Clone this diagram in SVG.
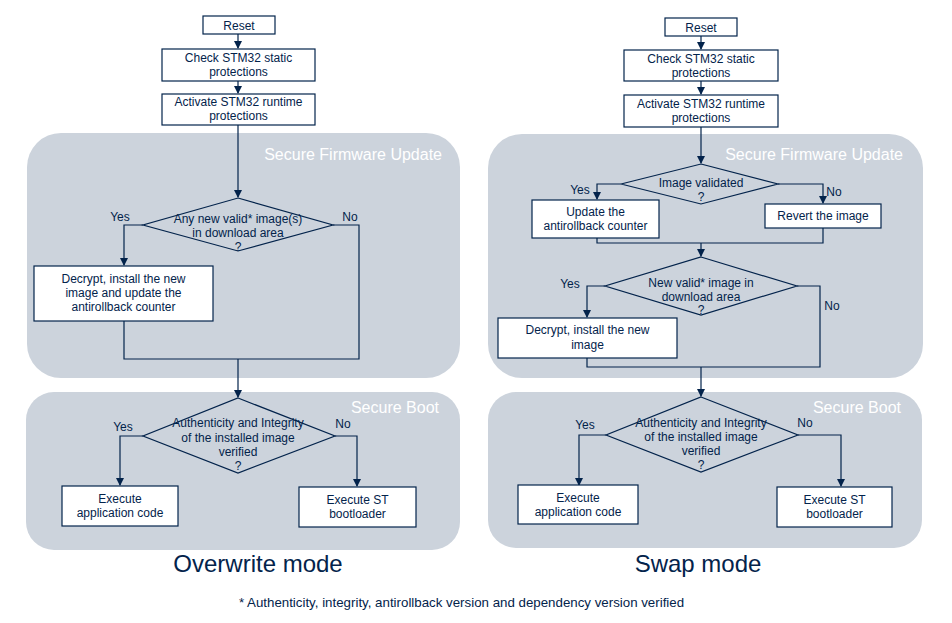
<svg xmlns="http://www.w3.org/2000/svg" width="952" height="623" viewBox="0 0 952 623">
<style>
.panel{fill:#ccd3dc;stroke:none}
.box{fill:#ffffff;stroke:#03234b;stroke-width:1.2}
.dia{fill:#ccd3dc;stroke:#03234b;stroke-width:1.2}
.t{font-family:"Liberation Sans",Arial,sans-serif;font-size:12px;fill:#03234b;text-anchor:middle}
.lbl{font-family:"Liberation Sans",Arial,sans-serif;font-size:12px;fill:#03234b;text-anchor:middle}
.pl{font-family:"Liberation Sans",Arial,sans-serif;font-size:16px;fill:#ffffff;text-anchor:end}
.title{font-family:"Liberation Sans",Arial,sans-serif;font-size:24px;fill:#03234b;text-anchor:middle}
.fn{font-family:"Liberation Sans",Arial,sans-serif;font-size:13.3px;fill:#03234b;text-anchor:middle}
.c{fill:none;stroke:#03234b;stroke-width:1.2}
</style>
<defs>
<marker id="ah" markerWidth="8" markerHeight="8" refX="7" refY="4" orient="auto" markerUnits="userSpaceOnUse">
<path d="M0,0 L8,4 L0,8 z" fill="#03234b"/>
</marker>
</defs>
<rect x="0" y="0" width="952" height="623" fill="#ffffff"/>

<g id="panels">
<rect class="panel" x="27" y="133" width="433" height="245" rx="34"/>
<rect class="panel" x="26" y="392" width="434" height="158" rx="28"/>
<rect class="panel" x="488" y="134" width="435" height="244" rx="34"/>
<rect class="panel" x="488" y="392" width="434" height="156" rx="28"/>
<text class="pl" x="442" y="160">Secure Firmware Update</text>
<text class="pl" x="439" y="413">Secure Boot</text>
<text class="pl" x="903" y="160">Secure Firmware Update</text>
<text class="pl" x="901" y="413">Secure Boot</text>
</g>

<g id="connectors">
<!-- left -->
<path class="c" d="M238,34 V48" marker-end="url(#ah)"/>
<path class="c" d="M238,81 V93" marker-end="url(#ah)"/>
<path class="c" d="M238,125 V197" marker-end="url(#ah)"/>
<path class="c" d="M143,225 H124 V265" marker-end="url(#ah)"/>
<path class="c" d="M333,225 H359 V359 H124 V321"/>
<path class="c" d="M238,359 V397" marker-end="url(#ah)"/>
<path class="c" d="M143,436 H120 V485" marker-end="url(#ah)"/>
<path class="c" d="M335,436 H357 V486" marker-end="url(#ah)"/>
<!-- right -->
<path class="c" d="M701,36 V49" marker-end="url(#ah)"/>
<path class="c" d="M701,81 V94" marker-end="url(#ah)"/>
<path class="c" d="M701,127 V163" marker-end="url(#ah)"/>
<path class="c" d="M621,184 H597 V199" marker-end="url(#ah)"/>
<path class="c" d="M778,184 H823 V203" marker-end="url(#ah)"/>
<path class="c" d="M597,238 V243 H823 V228"/>
<path class="c" d="M701,243 V256" marker-end="url(#ah)"/>
<path class="c" d="M605,286 H587 V317" marker-end="url(#ah)"/>
<path class="c" d="M797,286 H820 V367 H587 V358"/>
<path class="c" d="M701,367 V396" marker-end="url(#ah)"/>
<path class="c" d="M606,435 H579 V485" marker-end="url(#ah)"/>
<path class="c" d="M798,435 H841 V486" marker-end="url(#ah)"/>
</g>

<g id="L-reset"><rect class="box" x="203" y="16" width="72" height="18"/><text class="t" x="239" y="29.5">Reset</text></g>
<g id="L-check"><rect class="box" x="162" y="49" width="153" height="32"/><text class="t" x="238.5" y="62">Check STM32 static</text><text class="t" x="238.5" y="76">protections</text></g>
<g id="L-activate"><rect class="box" x="162" y="94" width="153" height="31"/><text class="t" x="238.5" y="106">Activate STM32 runtime</text><text class="t" x="238.5" y="120">protections</text></g>
<g id="L-d1"><polygon class="dia" points="238,198 333,225 238,251 143,225"/><text class="t" x="238" y="223">Any new valid* image(s)</text><text class="t" x="238" y="237">in download area</text><text class="t" x="238" y="251">?</text></g>
<text class="lbl" x="120" y="221">Yes</text>
<text class="lbl" x="350" y="221">No</text>
<g id="L-decrypt"><rect class="box" x="34" y="266" width="179" height="55"/><text class="t" x="123.5" y="283">Decrypt, install the new</text><text class="t" x="123.5" y="297">image and update the</text><text class="t" x="123.5" y="311">antirollback counter</text></g>
<g id="L-d2"><polygon class="dia" points="238,398 335,436 238,473 143,436"/><text class="t" x="238" y="427">Authenticity and Integrity</text><text class="t" x="238" y="442">of the installed image</text><text class="t" x="238" y="456">verified</text><text class="t" x="238" y="470">?</text></g>
<text class="lbl" x="123" y="431">Yes</text>
<text class="lbl" x="343" y="428">No</text>
<g id="L-app"><rect class="box" x="62" y="486" width="116" height="40"/><text class="t" x="120" y="503">Execute</text><text class="t" x="120" y="517">application code</text></g>
<g id="L-st"><rect class="box" x="299" y="487" width="117" height="40"/><text class="t" x="357.5" y="504">Execute ST</text><text class="t" x="357.5" y="518">bootloader</text></g>
<text class="title" x="258" y="572">Overwrite mode</text>

<g id="R-reset"><rect class="box" x="665" y="18" width="72" height="18"/><text class="t" x="701" y="31.5">Reset</text></g>
<g id="R-check"><rect class="box" x="624" y="50" width="154" height="31"/><text class="t" x="701" y="63">Check STM32 static</text><text class="t" x="701" y="77">protections</text></g>
<g id="R-activate"><rect class="box" x="624" y="95" width="154" height="32"/><text class="t" x="701" y="108">Activate STM32 runtime</text><text class="t" x="701" y="122">protections</text></g>
<g id="R-dA"><polygon class="dia" points="701,164 778,184 701,204 621,184"/><text class="t" x="701" y="187">Image validated</text><text class="t" x="701" y="201">?</text></g>
<text class="lbl" x="580" y="194">Yes</text>
<text class="lbl" x="834" y="196">No</text>
<g id="R-update"><rect class="box" x="532" y="200" width="127" height="38"/><text class="t" x="595.5" y="216">Update the</text><text class="t" x="595.5" y="230">antirollback counter</text></g>
<g id="R-revert"><rect class="box" x="765" y="204" width="116" height="24"/><text class="t" x="823" y="220">Revert the image</text></g>
<g id="R-dB"><polygon class="dia" points="701,257 797,286 701,315 605,286"/><text class="t" x="701" y="287">New valid* image in</text><text class="t" x="701" y="301">download area</text><text class="t" x="701" y="314">?</text></g>
<text class="lbl" x="570" y="288">Yes</text>
<text class="lbl" x="832" y="310">No</text>
<g id="R-decrypt"><rect class="box" x="498" y="318" width="179" height="40"/><text class="t" x="587.5" y="334">Decrypt, install the new</text><text class="t" x="587.5" y="349">image</text></g>
<g id="R-dC"><polygon class="dia" points="701,397 798,435 701,472 606,435"/><text class="t" x="701" y="427">Authenticity and Integrity</text><text class="t" x="701" y="441">of the installed image</text><text class="t" x="701" y="455">verified</text><text class="t" x="701" y="469">?</text></g>
<text class="lbl" x="585" y="429">Yes</text>
<text class="lbl" x="805" y="427">No</text>
<g id="R-app"><rect class="box" x="518" y="485" width="120" height="39"/><text class="t" x="578" y="502">Execute</text><text class="t" x="578" y="516">application code</text></g>
<g id="R-st"><rect class="box" x="777" y="487" width="115" height="40"/><text class="t" x="834.5" y="504">Execute ST</text><text class="t" x="834.5" y="518">bootloader</text></g>
<text class="title" x="698" y="572">Swap mode</text>

<text class="fn" x="461.5" y="607">* Authenticity, integrity, antirollback version and dependency version verified</text>
</svg>
